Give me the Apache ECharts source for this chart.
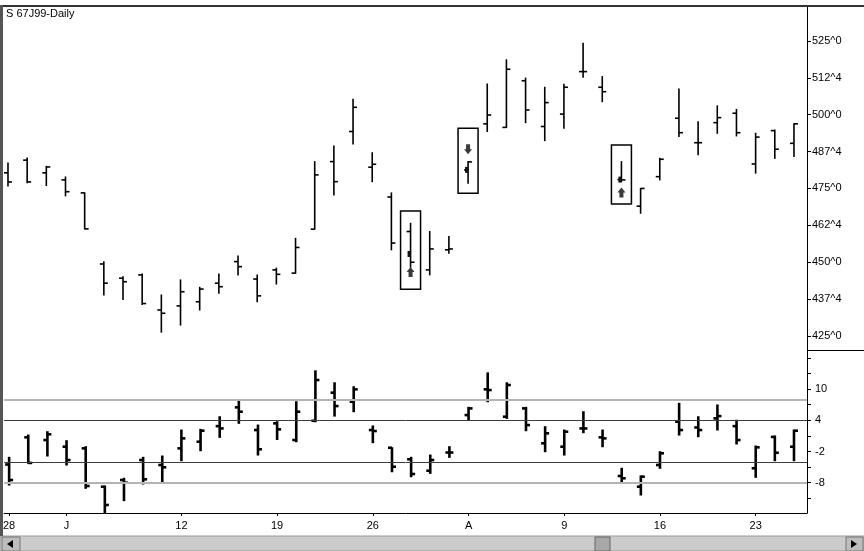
<!DOCTYPE html>
<html>
<head>
<meta charset="utf-8">
<script src="https://cdn.jsdelivr.net/npm/echarts@6/dist/echarts.min.js"></script>
<style>
  html, body { margin: 0; padding: 0; background: #fff; }
  #chartExample { width: 864px; height: 551px; }
</style>
</head>
<body>
<div id="chartExample"></div>
<script>
// trading days, 28 Jun - 25 Aug 1999 (5 Jul holiday)
var days = ['06-28', '06-29', '06-30', '07-01', '07-02', '07-06', '07-07', '07-08', '07-09',
    '07-12', '07-13', '07-14', '07-15', '07-16', '07-19', '07-20', '07-21', '07-22', '07-23',
    '07-26', '07-27', '07-28', '07-29', '07-30', '08-02', '08-03', '08-04', '08-05', '08-06',
    '08-09', '08-10', '08-11', '08-12', '08-13', '08-16', '08-17', '08-18', '08-19', '08-20',
    '08-23', '08-24', '08-25'];
var dayTickIdx = [0, 3, 9, 14, 19, 24, 29, 34, 39];
var dayTickText = ['28', 'J', '12', '19', '26', 'A', '9', '16', '23'];

// price bars
var pOpen = [480.3, 484.6, 480.3, 477.9, 473.5, 449.4, 444.6, 445.7, 433.8, 435.2, 436.6, 442.9, 450.2, 444.3,
    447.4, 446.3, 461.2, 484.1, 494.3, 482.2, 472.1, 460.4, 447.4, 454.2, 481.3, 496.9, 495.7, 511.5,
    496.0, 500.2, 514.6, 509.3, 478.0, 469.0, 479.0, 498.8, 490.5, 497.3, 500.5, 483.3, 494.6, 490.3];
var pHigh = [483.6, 485.3, 482.5, 478.9, 473.5, 450.2, 445.1, 446.0, 438.9, 444.0, 441.5, 446.0, 452.1, 445.7,
    448.0, 458.1, 484.1, 489.4, 505.2, 487.1, 473.5, 463.2, 460.4, 458.7, 484.1, 510.4, 518.6, 512.4,
    509.3, 510.3, 524.2, 512.9, 484.1, 475.0, 485.2, 508.7, 497.6, 503.0, 501.8, 493.7, 494.8, 496.9];
var pLow = [475.8, 476.9, 476.0, 472.5, 461.3, 438.9, 437.4, 435.7, 426.3, 428.7, 433.8, 439.5, 445.7, 436.6,
    442.6, 446.3, 461.2, 472.8, 490.1, 477.3, 454.2, 448.3, 445.7, 453.0, 476.8, 494.3, 495.7, 497.3,
    491.2, 495.4, 512.7, 504.4, 477.3, 466.6, 477.9, 492.6, 486.4, 493.7, 492.8, 480.2, 485.2, 485.8];
var pClose = [477.2, 477.2, 482.3, 473.9, 461.3, 442.9, 443.4, 436.0, 432.7, 440.0, 440.9, 441.7, 448.5, 438.6,
    445.9, 455.0, 479.6, 477.3, 502.5, 483.2, 456.5, 450.0, 454.5, 454.5, 484.0, 499.9, 515.4, 501.6,
    504.1, 509.3, 514.6, 507.8, 477.9, 475.0, 484.9, 493.9, 490.5, 499.0, 493.9, 492.4, 488.3, 496.9];

// oscillator bars
var oOpen = [-4.5, 0.72, 0.2, -1.08, -1.4, -8.77, -7.48, -3.64, -4.6, -1.4, -0.12, 2.87, 6.48, 2.12,
    3.41, 0.2, 3.9, 9.3, 7.56, 2.12, -1.28, -3.5, -5.7, -2.2, 5.0, 9.94, 4.68, 6.28,
    -0.43, -1.08, 2.43, 0.72, -6.71, -8.76, -4.6, 3.72, 2.62, 4.36, 2.87, -5.23, 0.8, -1.08];
var oHigh = [-3.12, 1.16, 1.8, 0.07, -1.08, -8.63, -7.15, -3.12, -2.87, 2.12, 2.25, 4.68, 7.89, 3.08,
    3.72, 7.56, 13.5, 11.2, 10.44, 2.9, -1.28, -3.12, -2.68, -1.08, 6.48, 13.1, 11.2, 6.48,
    2.76, 2.12, 5.64, 2.12, -5.23, -6.71, -2.04, 7.25, 4.68, 6.93, 4.0, -0.95, 0.97, 2.12];
var oLow = [-8.44, -4.27, -2.87, -4.6, -9.07, -13.9, -11.45, -8.25, -8.0, -3.77, -1.85, 0.72, 3.41, -2.68,
    0.31, -0.12, 3.72, 4.8, 5.64, -0.31, -5.89, -6.85, -6.2, -3.12, 4.04, 7.56, 4.36, 1.99,
    -2.04, -2.68, 1.61, -1.08, -7.8, -10.36, -5.23, 1.16, 0.84, 2.12, -0.56, -6.96, -3.77, -3.77];
var oClose = [-7.48, -4.2, 1.3, -3.64, -8.63, -12.28, -8.0, -7.35, -5.04, 0.52, 2.0, 2.43, 5.64, -1.58,
    2.25, 5.64, 11.73, 6.73, 9.94, 1.93, -4.93, -6.33, -3.64, -2.2, 6.28, 9.8, 10.77, 3.08,
    1.49, 1.8, 2.43, 0.52, -7.15, -6.84, -2.35, 2.12, 2.12, 4.8, 0.2, -1.2, -2.24, 1.99];

// signal boxes
var sigIdx = [21, 24, 32];
var sigTop = [467.4, 495.4, 489.7];
var sigBottom = [440.8, 473.4, 469.7];
var sigArrow = [446.5, 488.5, 473.5];
var sigMark = [452.8, 481.3, 478.0];
var sigDir = ['up', 'down', 'up'];

// axis ticks
var priceTicks = [425, 437.5, 450, 462.5, 475, 487.5, 500, 512.5, 525];
var oscLabels = [10, 4, -2, -8];
var oscTicks = [16, 13, 10, 7, 4, 1, -2, -5, -8, -11];
var oscLevels = [8, 4, -4, -8];

var FONT = 'Liberation Sans';

function ohlcData(o, h, l, c) {
    var out = [];
    for (var i = 0; i < days.length; i++) {
        out.push([i, o[i], h[i], l[i], c[i]]);
    }
    return out;
}

function ohlcRender(width, tick) {
    return function (params, api) {
        var x = api.value(0);
        var o = api.coord([x, api.value(1)]);
        var h = api.coord([x, api.value(2)]);
        var l = api.coord([x, api.value(3)]);
        var c = api.coord([x, api.value(4)]);
        var st = { stroke: '#000', lineWidth: width };
        return {
            type: 'group',
            children: [
                { type: 'line', shape: { x1: h[0], y1: h[1] - 0.5, x2: l[0], y2: l[1] + 0.5 }, style: st },
                { type: 'line', shape: { x1: o[0] - tick, y1: o[1], x2: o[0], y2: o[1] }, style: st },
                { type: 'line', shape: { x1: c[0], y1: c[1], x2: c[0] + tick, y2: c[1] }, style: st }
            ]
        };
    };
}

function signalRender(params, api) {
    var x = api.value(0);
    var tl = api.coord([x, api.value(1)]);
    var br = api.coord([x, api.value(2)]);
    var ar = api.coord([x, api.value(3)]);
    var mk = api.coord([x, api.value(4)]);
    var up = sigDir[params.dataIndex] === 'up';
    var hw = 10;
    var cx = ar[0], cy = ar[1];
    var s = up ? 1 : -1;
    var arrow = [
        [cx - 4, cy - s * 0.5], [cx, cy - s * 5.5], [cx + 4, cy - s * 0.5],
        [cx + 2, cy - s * 0.5], [cx + 2, cy + s * 4.5], [cx - 2, cy + s * 4.5], [cx - 2, cy - s * 0.5]
    ];
    return {
        type: 'group',
        children: [
            { type: 'rect', shape: { x: tl[0] - hw, y: tl[1], width: hw * 2, height: br[1] - tl[1] },
              style: { fill: 'none', stroke: '#000', lineWidth: 1.5 } },
            { type: 'polygon', shape: { points: arrow }, style: { fill: '#3a3a3a' } },
            { type: 'rect', shape: { x: mk[0] - 3, y: mk[1] - 3, width: 3, height: 6 }, style: { fill: '#111' } }
        ]
    };
}

function priceLabel(v) {
    var whole = Math.floor(v);
    return whole + '^' + Math.round((v - whole) * 8);
}

var myChart = echarts.init(document.getElementById('chartExample'));

var axisText = { color: '#000', fontSize: 11, fontFamily: FONT };

var option = {
    animation: false,
    backgroundColor: '#fff',
    title: {
        text: 'S 67J99-Daily',
        left: 6, top: 8, padding: 0,
        textStyle: { fontSize: 11, fontWeight: 'normal', color: '#000', fontFamily: FONT }
    },
    grid: [
        { left: 3, right: 57, top: 7, height: 343 },
        { left: 3, right: 57, top: 350, height: 163 }
    ],
    xAxis: [
        { type: 'value', gridIndex: 0, min: -0.26, max: 41.68, show: false },
        {
            type: 'value', gridIndex: 1, min: -0.26, max: 41.68,
            axisLine: { show: true, onZero: false, lineStyle: { color: '#000', width: 1 } },
            axisTick: { show: true, customValues: dayTickIdx, length: 3, lineStyle: { color: '#000' } },
            axisLabel: {
                customValues: dayTickIdx, margin: 7, ...axisText,
                formatter: function (v) { return dayTickText[dayTickIdx.indexOf(v)]; }
            },
            splitLine: { show: false }
        }
    ],
    yAxis: [
        {
            type: 'value', gridIndex: 0, position: 'right', min: 420.25, max: 536.5,
            axisLine: { show: true, onZero: false, lineStyle: { color: '#000' } },
            axisTick: { show: true, customValues: priceTicks, length: 4, lineStyle: { color: '#000' } },
            axisLabel: { customValues: priceTicks, margin: 5, formatter: priceLabel, ...axisText },
            splitLine: { show: false }
        },
        {
            type: 'value', gridIndex: 1, position: 'right', min: -13.82, max: 17.5,
            axisLine: { show: true, onZero: false, lineStyle: { color: '#000' } },
            axisTick: { show: true, customValues: oscTicks, length: 4, lineStyle: { color: '#000' } },
            axisLabel: { customValues: oscLabels, margin: 8, ...axisText },
            splitLine: { show: false }
        }
    ],
    series: [
        {
            name: 'price', type: 'custom', xAxisIndex: 0, yAxisIndex: 0,
            renderItem: ohlcRender(1.6, 4), data: ohlcData(pOpen, pHigh, pLow, pClose), clip: true
        },
        {
            name: 'signals', type: 'custom', xAxisIndex: 0, yAxisIndex: 0,
            renderItem: signalRender,
            data: sigIdx.map(function (d, k) { return [d, sigTop[k], sigBottom[k], sigArrow[k], sigMark[k]]; })
        },
        {
            name: 'osc', type: 'custom', xAxisIndex: 1, yAxisIndex: 1,
            renderItem: ohlcRender(2.6, 4), data: ohlcData(oOpen, oHigh, oLow, oClose), clip: true,
            markLine: {
                silent: true, symbol: 'none', label: { show: false },
                data: oscLevels.map(function (v) {
                    var outer = Math.abs(v) > 5;
                    return {
                        yAxis: v,
                        lineStyle: { type: 'solid', color: outer ? '#b4b4b4' : '#3c3c3c', width: outer ? 2 : 1 }
                    };
                })
            }
        }
    ],
    graphic: [
        // window frame
        { type: 'rect', shape: { x: 0, y: 5, width: 864, height: 2 }, style: { fill: '#333' }, z: 10 },
        { type: 'rect', shape: { x: 0, y: 5, width: 3, height: 531 }, style: { fill: '#555' }, z: 10 },
        { type: 'line', shape: { x1: 807, y1: 350.5, x2: 864, y2: 350.5 }, style: { stroke: '#000', lineWidth: 1 } },
        // scroll bar
        { type: 'rect', shape: { x: 0, y: 536, width: 864, height: 15 }, style: { fill: '#cbcbcb', stroke: '#9a9a9a' } },
        { type: 'rect', shape: { x: 2, y: 537, width: 18, height: 14 }, style: { fill: '#bdbdbd', stroke: '#777' } },
        { type: 'polygon', shape: { points: [[7, 544], [13, 540], [13, 548]] }, style: { fill: '#000' } },
        { type: 'rect', shape: { x: 846, y: 537, width: 17, height: 14 }, style: { fill: '#bdbdbd', stroke: '#777' } },
        { type: 'polygon', shape: { points: [[857, 544], [851, 540], [851, 548]] }, style: { fill: '#000' } },
        { type: 'rect', shape: { x: 595, y: 537, width: 15, height: 14 }, style: { fill: '#a8a8a8', stroke: '#666' } }
    ]
};

myChart.setOption(option);
</script>
</body>
</html>
